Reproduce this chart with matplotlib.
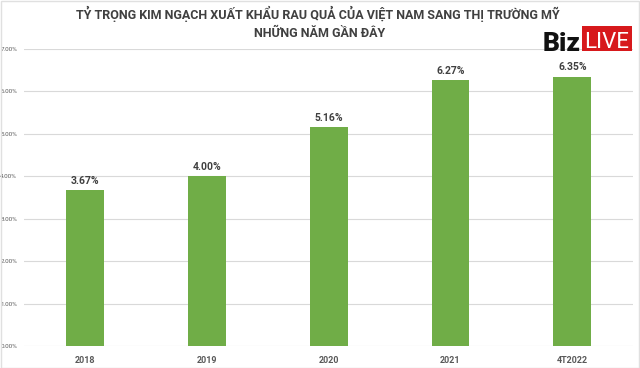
import matplotlib
matplotlib.use("Agg")
import matplotlib.pyplot as plt
from matplotlib.patches import Rectangle

plt.rcParams["font.family"] = ["Roboto", "DejaVu Sans"]

years = ["2018", "2019", "2020", "2021", "4T2022"]
shares = [3.67, 4.00, 5.16, 6.27, 6.35]
yticks = [0, 1, 2, 3, 4, 5, 6, 7]

fig = plt.figure(figsize=(6.4, 3.68), dpi=100)
ax = fig.add_axes([0.0375, 0.0598, 0.952, 0.807])

bars = ax.bar(years, shares, width=0.31, color="#70AD47", zorder=3)
for bar, val in zip(bars, shares):
    ax.text(bar.get_x() + bar.get_width() / 2, val + 0.1, f"{val:.2f}%",
            ha="center", va="bottom", fontsize=7.5, fontweight="bold", color="#404040")

ax.set_ylim(0, 7)
ax.set_xlim(-0.5, 4.5)
ax.set_yticks(yticks)
ax.set_yticklabels([f"{v:.2f}%" for v in yticks], fontsize=4.5, color="#595959")
ax.grid(True, axis="y", color="#D9D9D9", linewidth=0.8, zorder=0)
ax.tick_params(axis="both", length=0)
ax.tick_params(axis="y", pad=5)
ax.tick_params(axis="x", pad=7)
for lbl in ax.get_xticklabels():
    lbl.set_fontsize(6.5)
    lbl.set_fontweight("bold")
    lbl.set_color("#595959")
for s in ax.spines.values():
    s.set_visible(False)

fig.text(0.496, 0.962, "TỶ TRỌNG KIM NGẠCH XUẤT KHẨU RAU QUẢ CỦA VIỆT NAM SANG THỊ TRƯỜNG MỸ",
         ha="center", va="center", fontsize=9, fontweight="bold", color="#404040")
fig.text(0.5, 0.908, "NHỮNG NĂM GẦN ĐÂY",
         ha="center", va="center", fontsize=9, fontweight="bold", color="#404040")

# BizLIVE logo
fig.text(0.908, 0.861, "Biz", ha="right", va="baseline", fontsize=19, fontweight="black", color="#111111")
fig.patches.append(Rectangle((0.909, 0.861), 0.078, 0.068, transform=fig.transFigure,
                             facecolor="#D7191C", edgecolor="none"))
fig.text(0.948, 0.869, "LIVE", ha="center", va="baseline", fontsize=16, color="white")

fig.patches.append(Rectangle((0.001, 0.001), 0.997, 0.997, transform=fig.transFigure,
                             facecolor="none", edgecolor="#E0E0E0", linewidth=1))

fig.savefig("out.png", dpi=100, facecolor="white")
